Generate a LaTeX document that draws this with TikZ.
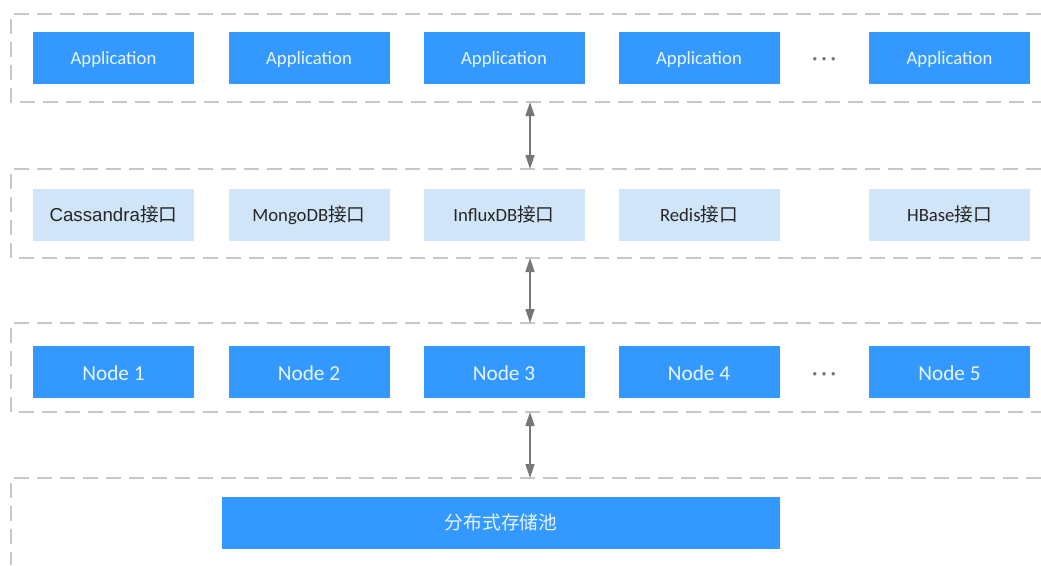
\documentclass[tikz,border=0pt]{standalone}
\usepackage{fontspec}
\setmainfont{Carlito}
\newfontfamily\cjk{Noto Sans CJK SC}
\newfontfamily\arialf{Liberation Sans}
\usetikzlibrary{arrows.meta}
\definecolor{boxblue}{HTML}{3399FF}
\definecolor{lightblue}{HTML}{D0E5F8}
\definecolor{dashgray}{HTML}{C8C8C8}
\definecolor{arrowgray}{HTML}{777777}
\definecolor{whitetext}{HTML}{EAF4FF}
\definecolor{darktext}{HTML}{262626}
\tikzset{
  x=1pt, y=-1pt,
  bluebox/.style={rectangle, fill=boxblue, draw=none, minimum width=161pt, minimum height=52pt, inner sep=0pt, text height=13pt, text depth=0pt, text=whitetext, font=\fontsize{18.7}{22}\selectfont},
  nodebox/.style={bluebox, text height=16pt, font=\fontsize{21.3}{24}\selectfont},
  ifbox/.style={rectangle, fill=lightblue, draw=none, minimum width=161pt, minimum height=52pt, inner sep=0pt, text height=12.5pt, text depth=0pt, text=darktext, font=\fontsize{18.7}{22}\selectfont},
  layer/.style={draw=dashgray, line width=2pt, dash pattern=on 15pt off 8pt},
  link/.style={draw=arrowgray, line width=1.5pt, {Triangle[length=14pt,width=9pt]}-{Triangle[length=14pt,width=9pt]}},
  dots/.style={text=arrowgray, inner sep=0pt, text height=0pt, text depth=0pt, font=\bfseries\fontsize{18.7}{22}\selectfont}
}
\begin{document}
\begin{tikzpicture}
\useasboundingbox (0,0) rectangle (1041,565);
% layers
\draw[layer] (1041,14) -- (11,14) -- (11,102) -- (1041,102);
\draw[layer] (1041,169) -- (11,169) -- (11,258) -- (1041,258);
\draw[layer] (1041,323) -- (11,323) -- (11,412) -- (1041,412);
\draw[layer] (1041,478) -- (11,478) -- (11,565);
% applications
\node[bluebox] (a1) at (113.5,58) {Application};
\node[bluebox] (a2) at (309,58) {Application};
\node[bluebox] (a3) at (504,58) {Application};
\node[bluebox] (a4) at (699,58) {Application};
\node[dots, anchor=base] (ad) at (824,64) {· · ·};
\node[bluebox] (a5) at (949.5,58) {Application};
% interfaces
\node[ifbox] (i1) at (113.5,215) {{\arialf Cassandra}{\cjk 接口}};
\node[ifbox] (i2) at (309,215) {MongoDB{\cjk 接口}};
\node[ifbox] (i3) at (504,215) {InfluxDB{\cjk 接口}};
\node[ifbox] (i4) at (699,215) {Redis{\cjk 接口}};
\node[ifbox] (i5) at (949.5,215) {HBase{\cjk 接口}};
% nodes
\node[nodebox] (n1) at (113.5,372) {Node 1};
\node[nodebox] (n2) at (309,372) {Node 2};
\node[nodebox] (n3) at (504,372) {Node 3};
\node[nodebox] (n4) at (699,372) {Node 4};
\node[dots, anchor=base] (nd) at (824,379) {· · ·};
\node[nodebox] (n5) at (949.5,372) {Node 5};
% storage pool
\node[bluebox, minimum width=558pt] (pool) at (501,523) {\cjk 分布式存储池};
% connectors
\coordinate (l1b) at (530,102);
\coordinate (l2t) at (530,169);
\coordinate (l2b) at (530,258);
\coordinate (l3t) at (530,323);
\coordinate (l3b) at (530,412);
\coordinate (l4t) at (530,478);
\draw[link] (l1b) -- (l2t);
\draw[link] (l2b) -- (l3t);
\draw[link] (l3b) -- (l4t);
\end{tikzpicture}
\end{document}
